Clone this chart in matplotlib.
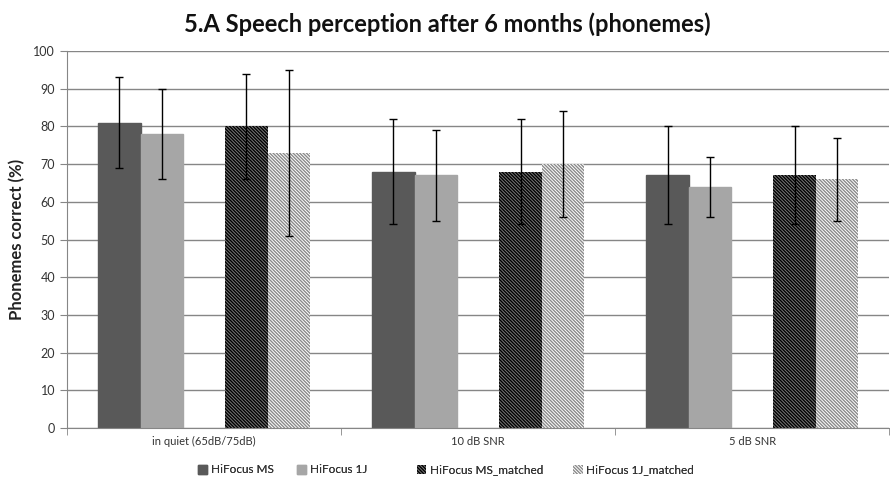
import matplotlib
matplotlib.use("Agg")
import matplotlib.pyplot as plt
import numpy as np

plt.rcParams['font.family'] = ['Lato', 'DejaVu Sans']
plt.rcParams['hatch.linewidth'] = 1.0

categories = ["in quiet (65dB/75dB)", "10 dB SNR", "5 dB SNR"]
series_names = ["HiFocus MS", "HiFocus 1J", "HiFocus MS_matched", "HiFocus 1J_matched"]
ms_vals = [81, 68, 67]
ms_err = [12, 14, 13]
j1_vals = [78, 67, 64]
j1_err = [12, 12, 8]
msm_vals = [80, 68, 67]
msm_err = [14, 14, 13]
j1m_vals = [73, 70, 66]
j1m_err = [22, 14, 11]
yticks = list(range(0, 101, 10))

fig = plt.figure(figsize=(8.9, 4.87), dpi=100)
ax = fig.add_axes([0.0753, 0.1211, 0.924, 0.7742])

x = np.arange(len(categories))
w = 0.1545
slots = [-2, -1, 1, 2]
styles = [
    dict(color="#595959", edgecolor="#595959"),
    dict(color="#a6a6a6", edgecolor="#a6a6a6"),
    dict(facecolor="#7a7a7a", edgecolor="#000000", hatch="\\" * 10, linewidth=0),
    dict(facecolor="#ffffff", edgecolor="#8a8a8a", hatch="\\" * 10, linewidth=0),
]
vals = [ms_vals, j1_vals, msm_vals, j1m_vals]
errs = [ms_err, j1_err, msm_err, j1m_err]
handles = []
for k in range(4):
    b = ax.bar(x + slots[k] * w, vals[k], width=w, zorder=2, label=series_names[k], **styles[k])
    ax.errorbar(x + slots[k] * w, vals[k], yerr=errs[k], fmt="none", ecolor="black",
                elinewidth=1, capsize=3, capthick=1, zorder=3)
    handles.append(b)

ax.set_xlim(-0.5, 2.5)
ax.set_ylim(0, 100)
ax.set_yticks(yticks)
ax.set_yticklabels([str(t) for t in yticks], fontsize=9, color="#333333")
ax.set_xticks(x)
ax.set_xticklabels(categories, fontsize=8, color="#333333")
ax.set_xticks([-0.5, 0.5, 1.5, 2.5], minor=True)
ax.tick_params(axis="x", which="major", length=0, pad=6)
ax.tick_params(axis="x", which="minor", length=5, color="#868686", direction="out")
ax.tick_params(axis="y", length=5, color="#868686", direction="out")
ax.yaxis.grid(True, color="#868686", linewidth=1, zorder=0)
ax.set_axisbelow(True)
for s in ["top", "right"]:
    ax.spines[s].set_visible(False)
ax.spines["left"].set_color("#868686")
ax.spines["bottom"].set_color("#868686")
ax.set_ylabel("Phonemes correct (%)", fontsize=12, fontweight="bold", color="#222222", labelpad=6)
fig.suptitle("5.A Speech perception after 6 months (phonemes)", x=0.503, y=0.975,
             fontsize=17, fontweight="bold", color="#111111")

legend_x = [0.2225, 0.3335, 0.4685, 0.644]
for k in range(4):
    lg = fig.legend(handles=[handles[k]], labels=[series_names[k]], loc="center left",
                    bbox_to_anchor=(legend_x[k], 0.035), frameon=False, fontsize=8.5,
                    handlelength=0.8, handleheight=0.8, handletextpad=0.3,
                    borderaxespad=0, borderpad=0, labelcolor="#333333")
    fig.add_artist(lg)
fig.savefig("out.png", dpi=100)
